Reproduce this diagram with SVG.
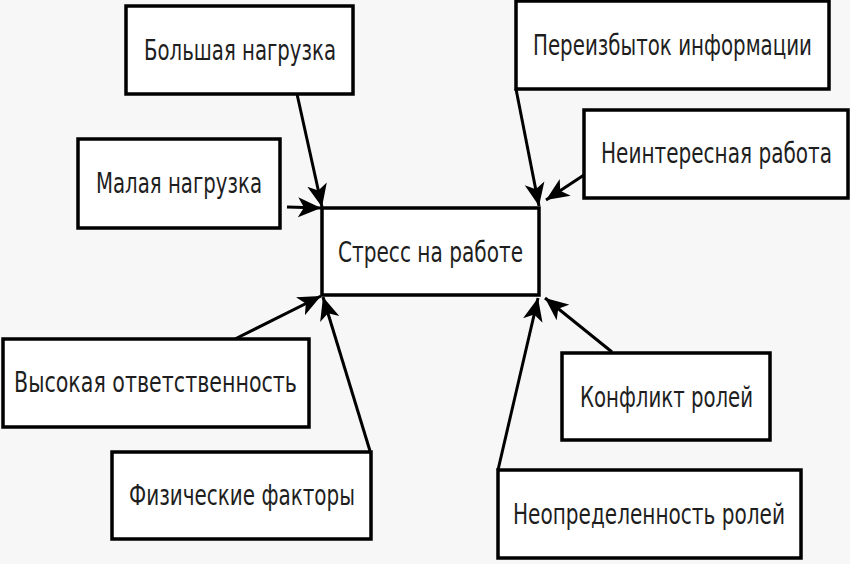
<svg xmlns="http://www.w3.org/2000/svg" width="850" height="564" viewBox="0 0 850 564">
<style>
.bg{fill:#f7f7f7}
.box{fill:#ffffff;stroke:#000;stroke-width:3.5}
.lbl{font-family:"DejaVu Sans","Noto Sans",sans-serif;font-size:21px;fill:#1e1e1e}
.edge{stroke:#000;stroke-width:3;fill:none;marker-end:url(#ah)}
</style>
<defs>
<marker id="ah" markerUnits="userSpaceOnUse" markerWidth="24" markerHeight="22" viewBox="0 0 24 22" refX="23" refY="11" orient="auto">
<path d="M0,1 L23,11 L0,21 L6,11 Z" fill="#000"/>
</marker>
</defs>
<rect class="bg" x="0" y="0" width="850" height="564"/>
<g id="connectors">
<line class="edge" x1="297" y1="94" x2="322" y2="207"/>
<line class="edge" x1="287" y1="207" x2="321" y2="208"/>
<line class="edge" x1="516" y1="89" x2="539" y2="206"/>
<line class="edge" x1="584" y1="175" x2="546" y2="200"/>
<line class="edge" x1="235" y1="339" x2="321" y2="296"/>
<line class="edge" x1="370" y1="451" x2="323" y2="297"/>
<line class="edge" x1="612" y1="352" x2="545" y2="298"/>
<line class="edge" x1="498" y1="470" x2="538" y2="298"/>
</g>
<g id="n-stress">
<rect class="box" x="322" y="208" width="217" height="87"/>
<text class="lbl" transform="translate(338 262) scale(1 1.35)" textLength="185" lengthAdjust="spacingAndGlyphs">Стресс на работе</text>
</g>
<g id="n-bolshaya">
<rect class="box" x="126" y="6" width="227" height="88"/>
<text class="lbl" transform="translate(144 60) scale(1 1.35)" textLength="192" lengthAdjust="spacingAndGlyphs">Большая нагрузка</text>
</g>
<g id="n-malaya">
<rect class="box" x="78" y="139" width="202" height="89"/>
<text class="lbl" transform="translate(96 193) scale(1 1.35)" textLength="166" lengthAdjust="spacingAndGlyphs">Малая нагрузка</text>
</g>
<g id="n-pereizbytok">
<rect class="box" x="516" y="1" width="313" height="88"/>
<text class="lbl" transform="translate(533 55) scale(1 1.35)" textLength="279" lengthAdjust="spacingAndGlyphs">Переизбыток информации</text>
</g>
<g id="n-neinteresnaya">
<rect class="box" x="584" y="110" width="264" height="88"/>
<text class="lbl" transform="translate(601 163) scale(1 1.35)" textLength="231" lengthAdjust="spacingAndGlyphs">Неинтересная работа</text>
</g>
<g id="n-vysokaya">
<rect class="box" x="3" y="339" width="306" height="88"/>
<text class="lbl" transform="translate(14 392) scale(1 1.35)" textLength="283" lengthAdjust="spacingAndGlyphs">Высокая ответственность</text>
</g>
<g id="n-fizicheskie">
<rect class="box" x="112" y="452" width="259" height="87"/>
<text class="lbl" transform="translate(129 505) scale(1 1.35)" textLength="226" lengthAdjust="spacingAndGlyphs">Физические факторы</text>
</g>
<g id="n-konflikt">
<rect class="box" x="562" y="353" width="208" height="87"/>
<text class="lbl" transform="translate(580 407) scale(1 1.35)" textLength="173" lengthAdjust="spacingAndGlyphs">Конфликт ролей</text>
</g>
<g id="n-neopredelennost">
<rect class="box" x="498" y="470" width="303" height="88"/>
<text class="lbl" transform="translate(513 524) scale(1 1.35)" textLength="272" lengthAdjust="spacingAndGlyphs">Неопределенность ролей</text>
</g>
</svg>
